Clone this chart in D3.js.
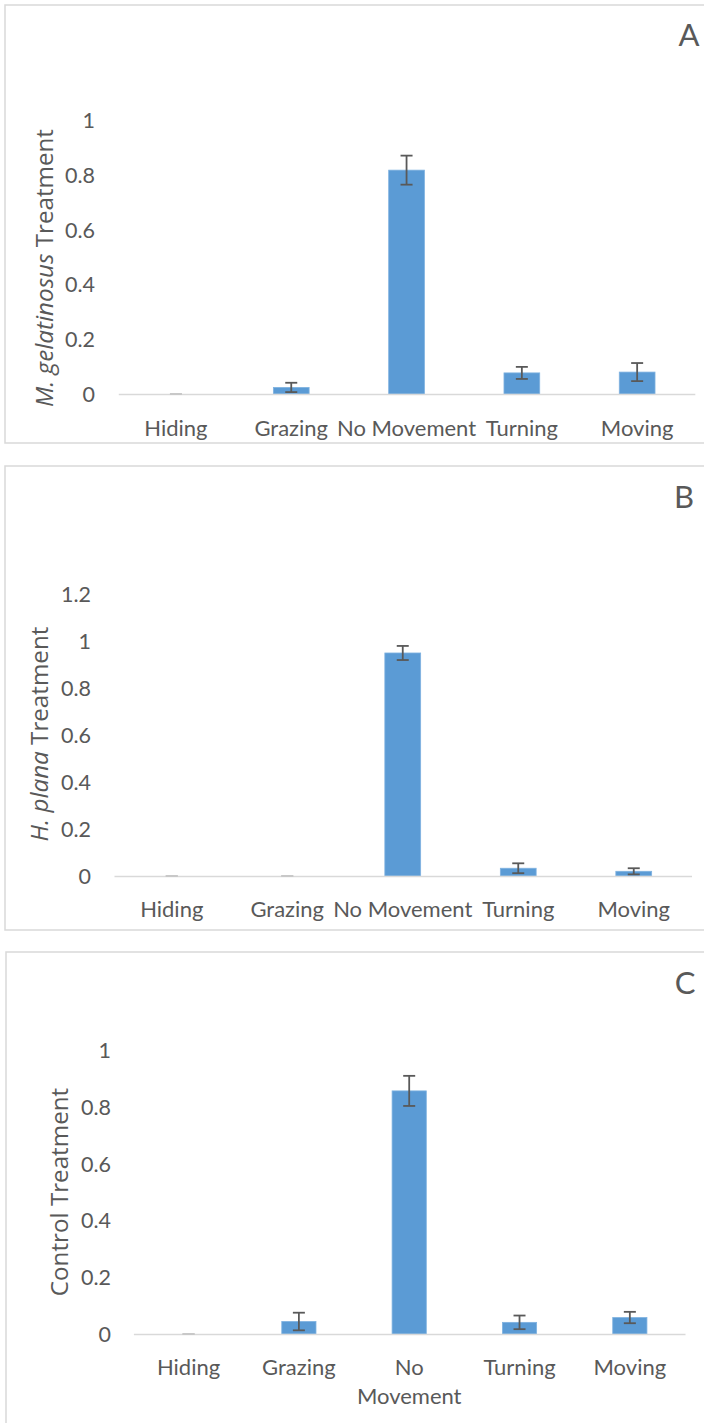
<!DOCTYPE html>
<html>
<head>
<meta charset="utf-8">
<script src="https://cdn.jsdelivr.net/npm/d3@7"></script>
<style>
  html, body { margin: 0; padding: 0; background: #fff; }
  svg { display: block; }
  text { font-family: Lato, "Liberation Sans", sans-serif; fill: #595959; }
  text.axis-title { font-family: "Open Sans", "DejaVu Sans", sans-serif; }
</style>
</head>
<body>
<svg id="chart" width="704" height="1423"></svg>
<script>
// Behaviour categories shared by all three panels
const categories = ["Hiding", "Grazing", "No Movement", "Turning", "Moving"];

// Mean proportion of time per behaviour, with standard error
const gelatinosusValues = [0, 0.024, 0.817, 0.077, 0.080];
const gelatinosusErrors = [0, 0.017, 0.053, 0.022, 0.033];

const planaValues = [0, 0, 0.949, 0.033, 0.020];
const planaErrors = [0, 0, 0.030, 0.021, 0.013];

const controlValues = [0, 0.044, 0.856, 0.041, 0.058];
const controlErrors = [0, 0.031, 0.053, 0.024, 0.020];

// Y tick labels of each panel
const ticksA = [0, 0.2, 0.4, 0.6, 0.8, 1];
const ticksB = [0, 0.2, 0.4, 0.6, 0.8, 1, 1.2];
const ticksC = [0, 0.2, 0.4, 0.6, 0.8, 1];

const panels = [
  {
    letter: "A", values: gelatinosusValues, errors: gelatinosusErrors, ticks: ticksA,
    titleParts: [{ t: "M. gelatinosus", italic: true }, { t: " Treatment", italic: false }],
    frame: [5, 5, 720, 443], x: [118.3, 694.8], y: [394, 120], yMax: 1,
    tickRight: 95, titleX: 43, titleY: 268, catY: 427, wrap: false,
    letterPos: [689, 34]
  },
  {
    letter: "B", values: planaValues, errors: planaErrors, ticks: ticksB,
    titleParts: [{ t: "H. plana", italic: true }, { t: " Treatment", italic: false }],
    frame: [5, 466, 720, 930], x: [114, 691.5], y: [876, 594], yMax: 1.2,
    tickRight: 91, titleX: 38, titleY: 734, catY: 908, wrap: false,
    letterPos: [684, 496]
  },
  {
    letter: "C", values: controlValues, errors: controlErrors, ticks: ticksC,
    titleParts: [{ t: "Control Treatment", italic: false }],
    frame: [6, 952, 720, 1440], x: [133.4, 685], y: [1334, 1050], yMax: 1,
    tickRight: 111, titleX: 58, titleY: 1192, catY: 1366, wrap: true,
    letterPos: [685, 982]
  }
];

const svg = d3.select("#chart");
const fmt = d => String(+d.toFixed(1));

panels.forEach(p => {
  const g = svg.append("g");

  // outer frame
  g.append("rect")
    .attr("x", p.frame[0]).attr("y", p.frame[1])
    .attr("width", p.frame[2] - p.frame[0]).attr("height", p.frame[3] - p.frame[1])
    .attr("fill", "#fff").attr("stroke", "#d9d9d9").attr("stroke-width", 1.5);

  const x = d3.scaleBand().domain(categories).range(p.x)
    .paddingInner(0.69).paddingOuter(0.345);
  const y = d3.scaleLinear().domain([0, p.yMax]).range(p.y);

  // y tick labels
  const yAxis = g.append("g")
    .attr("transform", `translate(${p.tickRight},0)`)
    .call(d3.axisLeft(y).tickValues(p.ticks).tickSize(0).tickPadding(0).tickFormat(fmt));
  yAxis.select(".domain").remove();
  yAxis.selectAll("text")
    .attr("font-size", 21.5).attr("fill", "#595959")
    .attr("dy", "0.35em");

  // bars
  g.selectAll("rect.bar").data(p.values).join("rect")
    .attr("class", "bar")
    .attr("x", (d, i) => x(categories[i]))
    .attr("width", x.bandwidth())
    .attr("y", d => y(d))
    .attr("height", d => y(0) - y(d))
    .attr("fill", "#5b9bd5")
    .attr("stroke", "#7fb2e0").attr("stroke-width", 0.8);

  // category axis
  const xAxis = g.append("g")
    .attr("transform", `translate(0,${y(0)})`)
    .call(d3.axisBottom(x).tickSize(0).tickPadding(0));
  xAxis.select(".domain").attr("stroke", "#d9d9d9").attr("stroke-width", 1.5);
  xAxis.selectAll(".tick text").remove();

  // category labels
  const catSize = 22;
  categories.forEach(c => {
    const cx = x(c) + x.bandwidth() / 2;
    if (p.wrap && c.includes(" ")) {
      const parts = c.split(" ");
      g.append("text").attr("x", cx).attr("y", p.catY).attr("text-anchor", "middle")
        .attr("dominant-baseline", "central").attr("font-size", catSize).text(parts[0]);
      g.append("text").attr("x", cx).attr("y", p.catY + 29).attr("text-anchor", "middle")
        .attr("dominant-baseline", "central").attr("font-size", catSize).text(parts.slice(1).join(" "));
    } else {
      g.append("text").attr("x", cx).attr("y", p.catY).attr("text-anchor", "middle")
        .attr("dominant-baseline", "central").attr("font-size", catSize).text(c);
    }
  });

  // error bars
  const eb = g.append("g").attr("stroke", "#595959").attr("stroke-width", 1.8).attr("fill", "none");
  const cap = 6;
  p.values.forEach((v, i) => {
    const cx = x(categories[i]) + x.bandwidth() / 2;
    const lo = y(v - p.errors[i]);
    const hi = y(v + p.errors[i]);
    eb.append("line").attr("x1", cx).attr("x2", cx).attr("y1", lo).attr("y2", hi);
    eb.append("line").attr("x1", cx - cap).attr("x2", cx + cap).attr("y1", lo).attr("y2", lo)
      .attr("stroke", v === 0 ? "#c8c8c8" : "#595959");
    eb.append("line").attr("x1", cx - cap).attr("x2", cx + cap).attr("y1", hi).attr("y2", hi)
      .attr("stroke", v === 0 ? "#c8c8c8" : "#595959");
  });

  // y-axis title
  const title = g.append("text")
    .attr("class", "axis-title")
    .attr("transform", `translate(${p.titleX},${p.titleY}) rotate(-90)`)
    .attr("text-anchor", "middle").attr("dominant-baseline", "central")
    .attr("font-size", 24.2);
  p.titleParts.forEach(tp => {
    title.append("tspan").attr("font-style", tp.italic ? "italic" : "normal").text(tp.t);
  });

  // panel letter
  g.append("text")
    .attr("x", p.letterPos[0]).attr("y", p.letterPos[1])
    .attr("text-anchor", "middle").attr("dominant-baseline", "central")
    .attr("font-size", 31).text(p.letter);
});
</script>
</body>
</html>
